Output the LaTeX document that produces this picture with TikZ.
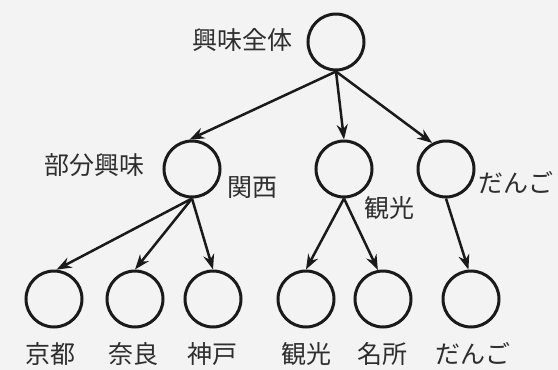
\documentclass[tikz,border=0pt]{standalone}
\usepackage{fontspec}
\newfontfamily\cjk{Noto Sans CJK JP}
\usetikzlibrary{arrows.meta}
\definecolor{bg}{HTML}{F3F3F3}
\definecolor{ink}{HTML}{1A1A1A}
\definecolor{txt}{HTML}{2E2E2E}
\begin{document}
\begin{tikzpicture}[x=1pt,y=-1pt,
  nd/.style={circle,draw=ink,line width=3pt,minimum size=56pt,inner sep=0pt},
  lbl/.style={text=txt,font=\cjk\fontsize{25}{28}\selectfont,inner sep=0pt},
  arr/.style={draw=ink,line width=2.5pt,-{Stealth[length=15pt,width=11pt]}}]
\fill[bg] (0,0) rectangle (558,370);
\useasboundingbox (0,0) rectangle (558,370);
\node[nd] (root) at (336,42) {};
\node[nd] (a) at (192,169) {};
\node[nd] (b) at (344,169) {};
\node[nd] (c) at (446,169) {};
\node[nd] (a1) at (54,299) {};
\node[nd] (a2) at (135,299) {};
\node[nd] (a3) at (213,299) {};
\node[nd] (b1) at (306,299) {};
\node[nd] (b2) at (383,299) {};
\node[nd] (c1) at (471,299) {};
\node[lbl] (lroot) at (242,40) {興味全体};
\node[lbl] (la) at (95,165) {部分興味};
\node[lbl] (lakansai) at (252,188) {関西};
\node[lbl] (lb) at (389,208) {観光};
\node[lbl] (lc) at (516,183) {だんご};
\node[lbl] (la1) at (51,354) {京都};
\node[lbl] (la2) at (133,354) {奈良};
\node[lbl] (la3) at (212,354) {神戸};
\node[lbl] (lb1) at (306,354) {観光};
\node[lbl] (lb2) at (382,354) {名所};
\node[lbl] (lc1) at (473,354) {だんご};
\draw[arr] (root.south) -- (a.95);
\draw[arr] (root.south) -- (b.north);
\draw[arr] (root.south) -- (c.118);
\draw[arr] (a.south) -- (a1.85);
\draw[arr] (a.south) -- (a2.north);
\draw[arr] (a.south) -- (a3.north);
\draw[arr] (b.south) -- (b1.north);
\draw[arr] (b.south) -- (b2.100);
\draw[arr] (c.south) -- (c1.95);
\end{tikzpicture}
\end{document}
